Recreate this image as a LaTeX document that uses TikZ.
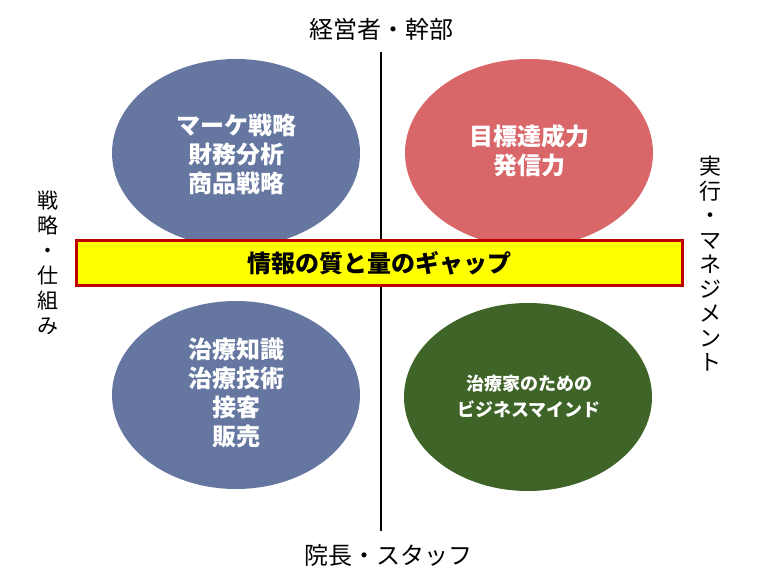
\documentclass[tikz,border=0pt]{standalone}
\usepackage{fontspec}
\setmainfont{Noto Sans CJK JP}
\usetikzlibrary{shapes.geometric}
\definecolor{cblue}{HTML}{6577A0}
\definecolor{cred}{HTML}{D9676A}
\definecolor{cgreen}{HTML}{3F6428}
\definecolor{cbar}{HTML}{FFFF00}
\definecolor{cbarline}{HTML}{C00000}
\begin{document}
\begin{tikzpicture}[x=1pt,y=-1pt,
  blob/.style={ellipse,minimum width=248pt,minimum height=188pt,inner sep=0pt,draw=none},
  intext/.style={text=white,font=\bfseries\fontsize{24}{29}\selectfont,align=center},
  side/.style={font=\fontsize{21}{25}\selectfont,align=center,inner sep=0pt},
  axis/.style={line width=2pt,black}]
\useasboundingbox (0,0) rectangle (768,577);
\fill[white] (0,0) rectangle (768,577);
\coordinate (ltop) at (381,52);
\coordinate (lbot) at (381,531);
\draw[axis] (ltop) -- (lbot);
\node[blob,fill=cblue] (tl) at (236,153) {};
\node[blob,fill=cred] (tr) at (529,153) {};
\node[blob,fill=cblue] (bl) at (236,395) {};
\node[blob,fill=cgreen] (br) at (528,397) {};
\node[intext] (tlt) at (236,154) {マーケ戦略\\財務分析\\商品戦略};
\node[intext] (trt) at (529,151) {目標達成力\\発信力};
\node[intext] (blt) at (236,393) {治療知識\\治療技術\\接客\\販売};
\node[intext,font=\bfseries\fontsize{18}{26}\selectfont] (brt) at (529,396) {治療家のための\\ビジネスマインド};
\node[draw=cbarline,line width=3pt,fill=cbar,minimum width=606pt,minimum height=45pt,inner sep=0pt,
  font=\bfseries\fontsize{24}{26}\selectfont] (bar) at (379,263) {情報の質と量のギャップ};
\node[side,font=\fontsize{24}{25}\selectfont] (top) at (381,29) {経営者・幹部};
\node[side,font=\fontsize{24}{25}\selectfont] (bot) at (388,555) {院長・スタッフ};
\node[side] (left) at (48,263) {戦\\略\\・\\仕\\組\\み};
\node[side,font=\fontsize{22}{24.5}\selectfont] (right) at (710,264) {実\\行\\・\\マ\\ネ\\ジ\\メ\\ン\\ト};
\end{tikzpicture}
\end{document}
